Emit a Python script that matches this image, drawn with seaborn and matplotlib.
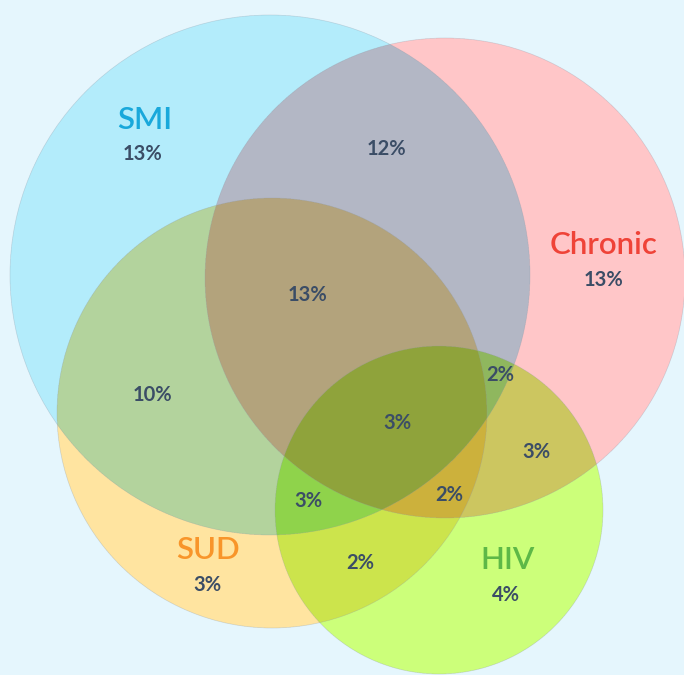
import numpy as np
import matplotlib.pyplot as plt
import seaborn as sns
from matplotlib.patches import Circle
from matplotlib.colors import to_rgb

# groups and their exclusive share
groups = ['SMI', 'Chronic', 'SUD', 'HIV']
group_pct = [13, 13, 3, 4]
group_fill = ['#b3ecfb', '#ffc6c9', '#ffe4a0', '#ccff7a']
group_text = ['#19a8db', '#ef4338', '#f8952a', '#5db847']

# overlap regions
overlap_names = ['SMI+Chronic', 'SMI+Chronic+SUD', 'SMI+SUD', 'SMI+Chronic+HIV',
                 'All four', 'Chronic+HIV', 'SMI+SUD+HIV', 'Chronic+SUD+HIV', 'SUD+HIV']
overlap_pct = [12, 13, 10, 2, 3, 3, 3, 2, 2]

# layout (pixels): circle centre x, y, radius
circles = [(270, 275, 260), (445, 278, 240), (272, 413, 215), (439, 510, 164)]
name_pos = [(145, 120), (604, 245), (208, 550), (508, 560)]
pct_pos = [(143, 154), (604, 280), (207, 585), (506, 595)]
overlap_pos = [(386, 149), (308, 295), (152, 395), (500, 375), (397, 423),
               (536, 452), (308, 501), (449, 495), (360, 563)]

W, H = 684, 675
bg = np.array(to_rgb('#e5f6fe'))

sns.set_theme(style='white')
plt.rcParams['font.family'] = ['Lato', 'DejaVu Sans']

# multiply-blended fill, supersampled
ss = 3
yy, xx = np.mgrid[0:H * ss, 0:W * ss].astype(np.float32)
xx = (xx + 0.5) / ss
yy = (yy + 0.5) / ss
prod = np.ones((H * ss, W * ss, 3), dtype=np.float32)
union = np.zeros((H * ss, W * ss), dtype=bool)
for (cx, cy, r), col in zip(circles, group_fill):
    m = (xx - cx) ** 2 + (yy - cy) ** 2 <= r * r
    prod[m] *= np.array(to_rgb(col), dtype=np.float32)
    union |= m
img = np.where(union[..., None], prod, bg.astype(np.float32))
img = img.reshape(H, ss, W, ss, 3).mean(axis=(1, 3))

fig = plt.figure(figsize=(6.84, 6.75), dpi=100)
ax = fig.add_axes([0, 0, 1, 1])
ax.imshow(img, extent=(0, W, H, 0), interpolation='nearest')
for cx, cy, r in circles:
    ax.add_patch(Circle((cx, cy), r, fill=False, ec='#8f9aa6', lw=0.5, alpha=0.35))

pct_color = '#3b4d66'
for name, pct, npos, ppos, tc in zip(groups, group_pct, name_pos, pct_pos, group_text):
    ax.text(*npos, name, color=tc, fontsize=22.5, fontweight='semibold', ha='center', va='center')
    ax.text(*ppos, f'{pct}%', color=pct_color, fontsize=14.5, fontweight='bold',
            ha='center', va='center')
for pct, pos in zip(overlap_pct, overlap_pos):
    ax.text(*pos, f'{pct}%', color=pct_color, fontsize=14.5, fontweight='bold',
            ha='center', va='center')

ax.set_xlim(0, W)
ax.set_ylim(H, 0)
ax.axis('off')
fig.savefig('out.png', dpi=100, facecolor=bg)
